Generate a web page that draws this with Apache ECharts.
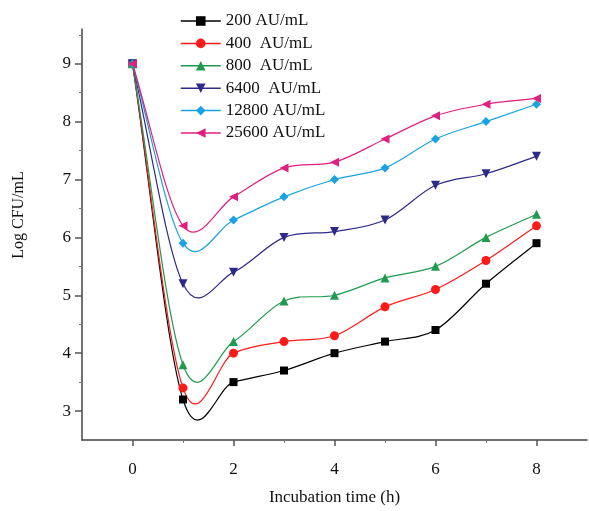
<!DOCTYPE html>
<html>
<head>
<meta charset="utf-8">
<script src="https://cdn.jsdelivr.net/npm/echarts@6/dist/echarts.min.js"></script>
<style>
html,body{margin:0;padding:0;background:#fff;}
#chart{width:589px;height:511px;}
</style>
</head>
<body>
<div id="chart"></div>
<script>
// Data
const hours = [0, 1, 2, 3, 4, 5, 6, 7, 8];
const seriesNames = ['200 AU/mL', '400  AU/mL', '800  AU/mL', '6400  AU/mL', '12800 AU/mL', '25600 AU/mL'];
const s200   = [9, 3.2, 3.5, 3.7, 4.0, 4.2, 4.4, 5.2, 5.9];
const s400   = [9, 3.4, 4.0, 4.2, 4.3, 4.8, 5.1, 5.6, 6.2];
const s800   = [9, 3.8, 4.2, 4.9, 5.0, 5.3, 5.5, 6.0, 6.4];
const s6400  = [9, 5.2, 5.4, 6.0, 6.1, 6.3, 6.9, 7.1, 7.4];
const s12800 = [9, 5.9, 6.3, 6.7, 7.0, 7.2, 7.7, 8.0, 8.3];
const s25600 = [9, 6.2, 6.7, 7.2, 7.3, 7.7, 8.1, 8.3, 8.4];
const xTickLabels = [0, 2, 4, 6, 8];
const xMinorTicks = [1, 3, 5, 7];
const yTickLabels = [3, 4, 5, 6, 7, 8, 9];
const yMinorTicks = [3.5, 4.5, 5.5, 6.5, 7.5, 8.5, 9.5];

const allValues = [s200, s400, s800, s6400, s12800, s25600];
const colors = ['#000000', '#ff1a1a', '#1f9a4f', '#2e2a88', '#1aa3e0', '#e0207e'];
const symbols = ['rect', 'circle', 'triangle', 'triangle', 'diamond', 'triangle'];
const rotates = [0, 0, 0, 180, 0, 90];
const sizes = [8, 9, 9, 9, 9, 9];

const FONT = '"Liberation Serif", "Times New Roman", serif';
const chart = echarts.init(document.getElementById('chart'), null, {renderer: 'canvas'});

// Spline (Catmull-Rom) curve through the data points, drawn through the axis scales
function splineRenderer(vals, color) {
  return function (params, api) {
    const n = hours.length;
    const pt = (k) => {
      if (k < 0) return [2 * hours[0] - hours[1], 2 * vals[0] - vals[1]];
      if (k > n - 1) return [2 * hours[n - 1] - hours[n - 2], 2 * vals[n - 1] - vals[n - 2]];
      return [hours[k], vals[k]];
    };
    let d = '';
    const p0 = api.coord(pt(0));
    d += 'M' + p0[0] + ' ' + p0[1];
    for (let k = 0; k < n - 1; k++) {
      const a = pt(k - 1), b = pt(k), c = pt(k + 1), e = pt(k + 2);
      const c1 = [b[0] + (c[0] - a[0]) / 6, b[1] + (c[1] - a[1]) / 6];
      const c2 = [c[0] - (e[0] - b[0]) / 6, c[1] - (e[1] - b[1]) / 6];
      const q1 = api.coord(c1), q2 = api.coord(c2), q3 = api.coord(c);
      d += ' C' + q1[0] + ' ' + q1[1] + ' ' + q2[0] + ' ' + q2[1] + ' ' + q3[0] + ' ' + q3[1];
    }
    return {
      type: 'path',
      shape: {pathData: d},
      style: {fill: null, stroke: color, lineWidth: 1.2}
    };
  };
}

const curveSeries = allValues.map((vals, i) => ({
  type: 'custom',
  xAxisIndex: 0,
  yAxisIndex: 0,
  data: [[hours[0], vals[0]]],
  renderItem: splineRenderer(vals, colors[i]),
  silent: true,
  z: 1 + i
}));

const markerSeries = allValues.map((vals, i) => ({
  name: seriesNames[i],
  type: 'line',
  xAxisIndex: 0,
  yAxisIndex: 0,
  data: hours.map((h, j) => [h, vals[j]]),
  symbol: symbols[i],
  symbolSize: sizes[i],
  symbolRotate: rotates[i],
  showAllSymbol: true,
  lineStyle: {color: colors[i], width: 0, opacity: 0},
  itemStyle: {color: colors[i]},
  emphasis: {disabled: true},
  z: 10 + i
}));

const axisLineStyle = {color: '#444', width: 1.5};

chart.setOption({
  animation: false,
  backgroundColor: '#fff',
  color: colors,
  grid: {left: 82, right: 2, top: 29, bottom: 67, containLabel: false},
  legend: {
    orient: 'vertical',
    left: 180,
    top: 12,
    padding: 0,
    itemWidth: 40,
    itemHeight: 12,
    itemGap: 4.4,
    textStyle: {fontFamily: FONT, fontSize: 17, color: '#111', lineHeight: 18},
    data: seriesNames.map((nm, i) => ({
      name: nm,
      lineStyle: {color: colors[i], width: 1.5, opacity: 1}
    }))
  },
  xAxis: [
    {
      type: 'value', min: -1, max: 9, interval: 1,
      position: 'bottom',
      axisLine: {show: true, onZero: false, lineStyle: axisLineStyle},
      axisTick: {show: true, length: 6, inside: false, customValues: xTickLabels, lineStyle: {color: '#555', width: 1.5}},
      axisLabel: {show: true, margin: 21, customValues: xTickLabels, fontFamily: FONT, fontSize: 17, color: '#111'},
      splitLine: {show: false},
      name: 'Incubation time (h)',
      nameLocation: 'middle',
      nameGap: 49,
      nameTextStyle: {fontFamily: FONT, fontSize: 17, color: '#111'}
    },
    {
      type: 'value', min: -1, max: 9, interval: 1,
      position: 'bottom',
      axisLine: {show: false, onZero: false},
      axisTick: {show: true, length: 3, customValues: xMinorTicks, lineStyle: {color: '#777', width: 1}},
      axisLabel: {show: false},
      splitLine: {show: false}
    }
  ],
  yAxis: [
    {
      type: 'value', min: 2.5, max: 9.6, interval: 0.5,
      position: 'left',
      axisLine: {show: true, onZero: false, lineStyle: axisLineStyle},
      axisTick: {show: true, length: 7, customValues: yTickLabels, lineStyle: {color: '#555', width: 1.5}},
      axisLabel: {show: true, margin: 11, customValues: yTickLabels, fontFamily: FONT, fontSize: 17, color: '#111'},
      splitLine: {show: false}
    },
    {
      type: 'value', min: 2.5, max: 9.6, interval: 0.5,
      position: 'left',
      axisLine: {show: false, onZero: false},
      axisTick: {show: true, length: 3, customValues: yMinorTicks, lineStyle: {color: '#777', width: 1}},
      axisLabel: {show: false},
      splitLine: {show: false}
    }
  ],
  graphic: [
    {
      type: 'text',
      x: 19, y: 215,
      rotation: Math.PI / 2,
      style: {text: 'Log CFU/mL', font: '16px ' + FONT, fill: '#111', align: 'center', verticalAlign: 'middle'}
    }
  ],
  series: curveSeries.concat(markerSeries)
});
</script>
</body>
</html>
